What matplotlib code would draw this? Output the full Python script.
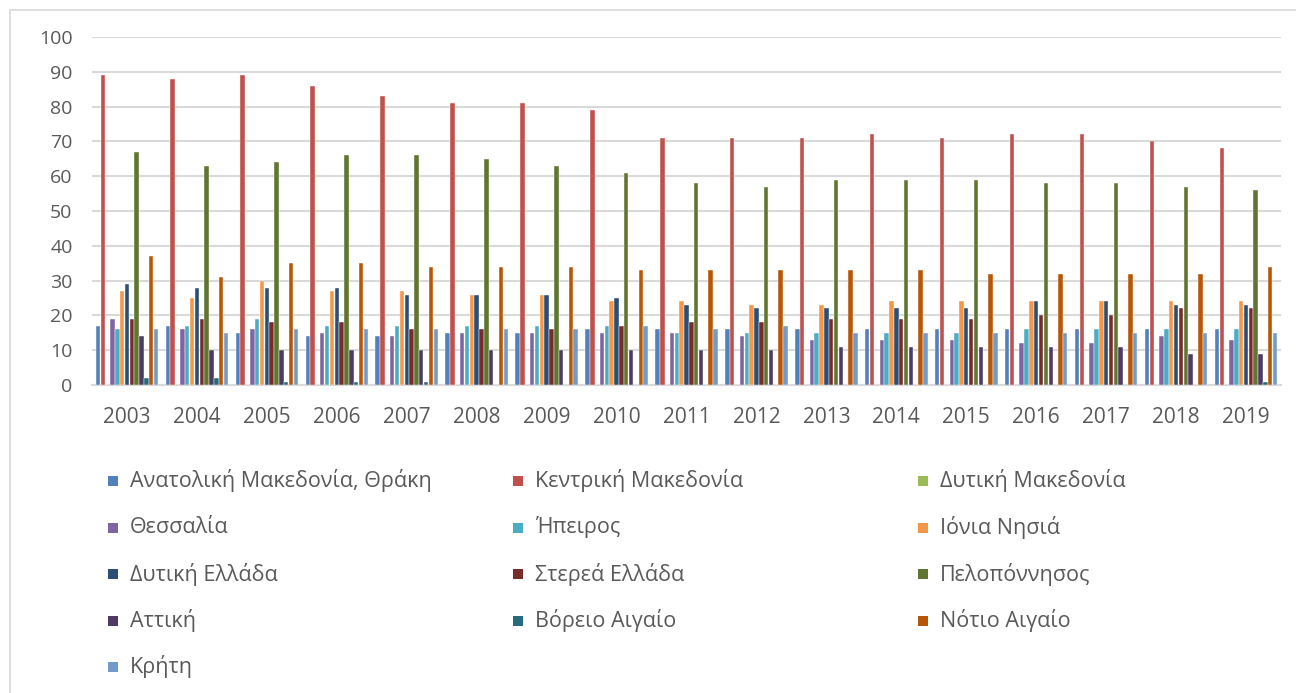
import numpy as np
import matplotlib.pyplot as plt
from matplotlib.patches import Rectangle

plt.rcParams['font.family'] = ['Open Sans', 'DejaVu Sans']

years = [str(y) for y in range(2003, 2020)]

regions = ['Ανατολική Μακεδονία, Θράκη', 'Κεντρική Μακεδονία', 'Δυτική Μακεδονία',
           'Θεσσαλία', 'Ήπειρος', 'Ιόνια Νησιά',
           'Δυτική Ελλάδα', 'Στερεά Ελλάδα', 'Πελοπόννησος',
           'Αττική', 'Βόρειο Αιγαίο', 'Νότιο Αιγαίο',
           'Κρήτη']

colors = ['#4F81BD', '#C0504D', '#9BBB59', '#8064A2', '#4BACC6', '#F79646',
          '#2C4D75', '#772C2A', '#5F7530', '#4D3B62', '#276A7C', '#B65708',
          '#729ACA']

# values, one list per region (2003..2019)
anat_mak = [17, 17, 15, 14, 14, 15, 15, 16, 16, 16, 16, 16, 16, 16, 16, 16, 16]
kentr_mak = [89, 88, 89, 86, 83, 81, 81, 79, 71, 71, 71, 72, 71, 72, 72, 70, 68]
dyt_mak = [0] * 17
thessalia = [19, 16, 16, 15, 14, 15, 15, 15, 15, 14, 13, 13, 13, 12, 12, 14, 13]
ipeiros = [16, 17, 19, 17, 17, 17, 17, 17, 15, 15, 15, 15, 15, 16, 16, 16, 16]
ionia = [27, 25, 30, 27, 27, 26, 26, 24, 24, 23, 23, 24, 24, 24, 24, 24, 24]
dyt_ellada = [29, 28, 28, 28, 26, 26, 26, 25, 23, 22, 22, 22, 22, 24, 24, 23, 23]
sterea = [19, 19, 18, 18, 16, 16, 16, 17, 18, 18, 19, 19, 19, 20, 20, 22, 22]
peloponnisos = [67, 63, 64, 66, 66, 65, 63, 61, 58, 57, 59, 59, 59, 58, 58, 57, 56]
attiki = [14, 10, 10, 10, 10, 10, 10, 10, 10, 10, 11, 11, 11, 11, 11, 9, 9]
vor_aigaio = [2, 2, 1, 1, 1, 0, 0, 0, 0, 0, 0, 0, 0, 0, 0, 0, 1]
not_aigaio = [37, 31, 35, 35, 34, 34, 34, 33, 33, 33, 33, 33, 32, 32, 32, 32, 34]
kriti = [16, 15, 16, 16, 16, 16, 16, 17, 16, 17, 15, 15, 15, 15, 15, 15, 15]

series = [anat_mak, kentr_mak, dyt_mak, thessalia, ipeiros, ionia, dyt_ellada,
          sterea, peloponnisos, attiki, vor_aigaio, not_aigaio, kriti]

W, H = 1296, 693
fig = plt.figure(figsize=(W / 100, H / 100), dpi=100)

# light chart frame
fig.patches.append(Rectangle((10 / W, -0.01), 1.2, 1 - 10 / H + 0.01,
                             transform=fig.transFigure, fill=False,
                             edgecolor='#D9D9D9', linewidth=1.2))

ax = fig.add_axes([92 / W, 1 - 385 / H, (1281 - 92) / W, (385 - 37) / H])

x = np.arange(len(years))
n = len(series)
bw = 0.9 / n
for i, (vals, col) in enumerate(zip(series, colors)):
    ax.bar(x + (i - (n - 1) / 2) * bw, vals, width=bw * 0.92, color=col,
           edgecolor='white', linewidth=0.3, zorder=3)

ax.set_xlim(-0.5, len(years) - 0.5)
ax.set_ylim(0, 100)
ax.set_yticks(range(0, 101, 10))
ax.set_xticks(x)
ax.set_xticklabels(years)
ax.grid(axis='y', color='#D9D9D9', linewidth=1.5, zorder=0)
for s in ['top', 'right', 'left']:
    ax.spines[s].set_visible(False)
ax.spines['bottom'].set_color('#D9D9D9')
ax.spines['bottom'].set_linewidth(1.5)
ax.tick_params(axis='both', length=0, labelcolor='#595959')
ax.tick_params(axis='x', pad=16, labelsize=15)
ax.tick_params(axis='y', pad=14, labelsize=14)

# legend: three columns, filled row by row
for i, (name, col) in enumerate(zip(regions, colors)):
    row, c = divmod(i, 3)
    px = 108 + c * 405
    py = 481 + row * 46.5
    fig.patches.append(Rectangle((px / W, 1 - (py + 5) / H), 10 / W, 10 / H,
                                 transform=fig.transFigure, facecolor=col,
                                 edgecolor='none'))
    fig.text((px + 22) / W, 1 - py / H, name, fontsize=15.5, color='#595959',
             va='center', ha='left')

fig.savefig('out.png', dpi=100)
